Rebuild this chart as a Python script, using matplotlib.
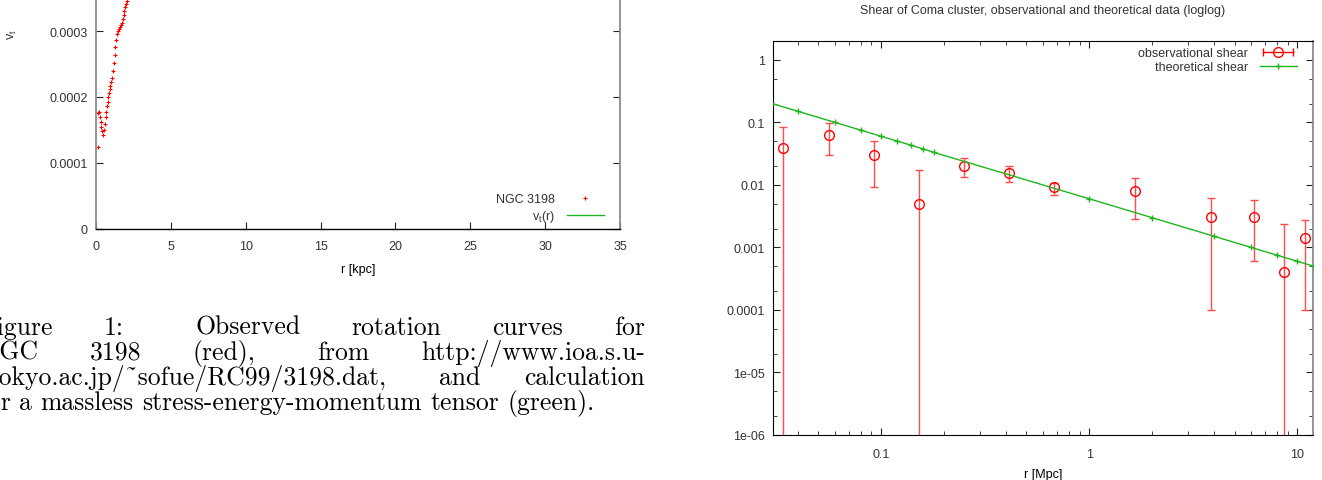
import matplotlib.pyplot as plt
from matplotlib.lines import Line2D
from matplotlib.legend_handler import HandlerLine2D, HandlerTuple
from matplotlib.ticker import LogLocator, NullFormatter

W, H = 1322, 481

# NGC 3198 rotation curve (visible part), r in kpc
ngc_r = [0.0, 0.11, 0.15, 0.22, 0.27, 0.33, 0.35, 0.40, 0.46, 0.53, 0.60, 0.64,
         0.69, 0.73, 0.78, 0.82, 0.86, 0.91, 0.95, 1.02, 1.06, 1.13, 1.20, 1.24,
         1.28, 1.35, 1.42, 1.48, 1.55, 1.62, 1.68, 1.75, 1.82, 1.86, 1.90, 1.95,
         2.01, 2.08]
ngc_v = [0.0, 1.24e-4, 1.76e-4, 1.77e-4, 1.69e-4, 1.62e-4, 1.54e-4, 1.48e-4,
         1.43e-4, 1.50e-4, 1.59e-4, 1.69e-4, 1.78e-4, 1.86e-4, 1.93e-4, 2.00e-4,
         2.06e-4, 2.12e-4, 2.17e-4, 2.23e-4, 2.29e-4, 2.39e-4, 2.52e-4, 2.64e-4,
         2.76e-4, 2.87e-4, 2.95e-4, 3.00e-4, 3.03e-4, 3.06e-4, 3.09e-4, 3.12e-4,
         3.18e-4, 3.24e-4, 3.30e-4, 3.36e-4, 3.41e-4, 3.45e-4]
left_xticks = [0, 5, 10, 15, 20, 25, 30, 35]
left_yticks = [0, 1e-4, 2e-4, 3e-4]
left_ylabels = ["0", "0.0001", "0.0002", "0.0003"]

# Coma cluster shear, r in Mpc (lower bound 0 = bar runs off the log axis)
obs_r = [0.034, 0.056, 0.093, 0.153, 0.25, 0.41, 0.68, 1.66, 3.83, 6.23, 8.61, 10.9]
obs_v = [0.039, 0.063, 0.030, 0.0050, 0.020, 0.0155, 0.0091, 0.0079, 0.0031,
         0.0031, 0.0004, 0.0014]
obs_hi = [0.085, 0.097, 0.050, 0.0171, 0.0272, 0.0197, 0.0107, 0.0127, 0.0062,
          0.0057, 0.0024, 0.0027]
obs_lo = [0, 0.0304, 0.0091, 0, 0.0132, 0.011, 0.0069, 0.0028, 1e-4, 6e-4, 0, 1e-4]

th_r = [0.03, 0.04, 0.06, 0.08, 0.1, 0.12, 0.14, 0.16, 0.18, 1, 2, 4, 6, 8, 10, 12]
th_v = [0.2, 0.15, 0.1, 0.075, 0.06, 0.05, 0.043, 0.0375, 0.033, 0.006, 0.003,
        0.0015, 0.001, 0.00075, 0.0006, 0.0005]

right_xticks = [0.1, 1, 10]
right_xlabels = ["0.1", "1", "10"]
right_yticks = [1, 0.1, 0.01, 0.001, 1e-4, 1e-5, 1e-6]
right_ylabels = ["1", "0.1", "0.01", "0.001", "0.0001", "1e-05", "1e-06"]

caption = [
    "Figure 1: Observed rotation curves for",
    "NGC 3198 (red), from http://www.ioa.s.u-",
    "Tokyo.ac.jp/~sofue/RC99/3198.dat, and calculation",
    "for a massless stress-energy-momentum tensor (green).",
]

RED = "#ff0000"
GREEN = "#1fb51f"
TXT = "#333333"
plt.rcParams["font.family"] = ["Liberation Sans", "DejaVu Sans"]
plt.rcParams["font.size"] = 9
plt.rcParams["text.color"] = TXT
plt.rcParams["xtick.color"] = "#222222"
plt.rcParams["ytick.color"] = "#222222"
plt.rcParams["xtick.labelcolor"] = TXT
plt.rcParams["ytick.labelcolor"] = TXT

fig = plt.figure(figsize=(W / 100, H / 100), dpi=100)


def frac_box(x0, y_top, x1, y_bot):
    return [x0 / W, 1 - y_bot / H, (x1 - x0) / W, (y_bot - y_top) / H]


# ---------- left: rotation curve ----------
ax1 = fig.add_axes(frac_box(96, 230 - 264, 620, 230))
ax1.plot(ngc_r, ngc_v, "+", color=RED, markersize=2.5, mew=0.8, label="NGC 3198")
ax1.plot([], [], "-", color=GREEN, lw=1, label="v$_\\mathregular{t}$(r)")
ax1.set_xlim(0, 35)
ax1.set_ylim(0, 4e-4)
ax1.set_xticks(left_xticks)
ax1.set_yticks(left_yticks, left_ylabels)
ax1.tick_params(direction="in", length=5, right=True, top=False, pad=6)
ax1.tick_params(axis="x", pad=8)
for s in ["left", "right"]:
    ax1.spines[s].set_color("#8c8c8c")
    ax1.spines[s].set_linewidth(1.3)
ax1.spines["bottom"].set_linewidth(1.0)
ax1.set_xlabel("r [kpc]", labelpad=8)
fig.text(12 / W, 1 - 35 / H, "v$_\\mathregular{t}$", rotation=90, ha="center",
         va="center", fontsize=9)
ax1.legend(loc="lower right", bbox_to_anchor=(604 / W, 1 - 225 / H),
           bbox_transform=fig.transFigure, frameon=False, markerfirst=False,
           borderpad=0, borderaxespad=0, handlelength=3.0, handletextpad=0.9,
           labelspacing=0.25, fontsize=9)

# ---------- right: Coma shear ----------
ax2 = fig.add_axes(frac_box(773, 42, 1313, 436))
ax2.set_xscale("log")
ax2.set_yscale("log")
yl = [v - max(lo, 1e-9) for v, lo in zip(obs_v, obs_lo)]
yh = [hi - v for v, hi in zip(obs_v, obs_hi)]
ax2.errorbar(obs_r, obs_v, yerr=[yl, yh], fmt="none", ecolor="#ff4d4d",
             elinewidth=1.0, capsize=3, capthick=1.0, zorder=2)
ax2.plot(obs_r, obs_v, "o", mfc="none", mec=RED, mew=1.0, markersize=7, zorder=3)
ax2.plot(th_r, th_v, "-", color=GREEN, lw=1, marker="+", markersize=5, mew=1,
         zorder=4)
ax2.set_xlim(0.0303, 11.9)
ax2.set_ylim(1e-6, 2.0)
ax2.set_xticks(right_xticks, right_xlabels)
ax2.set_yticks(right_yticks, right_ylabels)
ax2.xaxis.set_minor_locator(LogLocator(base=10, subs=range(2, 10)))
ax2.yaxis.set_minor_locator(LogLocator(base=10, subs=(2, 5)))
ax2.xaxis.set_minor_formatter(NullFormatter())
ax2.yaxis.set_minor_formatter(NullFormatter())
ax2.tick_params(which="both", direction="in", top=True, right=True)
ax2.tick_params(which="major", length=5, pad=6)
ax2.tick_params(axis="x", which="major", pad=9)
ax2.tick_params(which="minor", length=3)
ax2.spines["right"].set_color("#8c8c8c")
ax2.spines["right"].set_linewidth(1.3)
ax2.set_xlabel("r [Mpc]", labelpad=6)
ax2.set_title("Shear of Coma cluster, observational and theoretical data (loglog)",
              fontsize=9, pad=20)

caps = Line2D([], [], color=RED, lw=1, marker="|", markersize=6, mew=1)
circ = Line2D([], [], ls="none", marker="o", mfc="none", mec=RED, mew=1,
              markersize=7)
theo = Line2D([], [], color=GREEN, lw=1, marker="+", markersize=5, mew=1)
ax2.legend([(caps, circ), theo], ["observational shear", "theoretical shear"],
           handler_map={caps: HandlerLine2D(numpoints=2),
                        circ: HandlerLine2D(numpoints=1),
                        tuple: HandlerTuple(ndivide=1)},
           loc="upper right", bbox_to_anchor=(1297 / W, 1 - 48 / H),
           bbox_transform=fig.transFigure, frameon=False, markerfirst=False,
           borderpad=0, borderaxespad=0, handlelength=3.0, handletextpad=0.9,
           labelspacing=0.15, fontsize=9)

# ---------- caption (justified like TeX, cut at the left page edge) ----------
cap_size = 18.5
cap_font = dict(family=["cmr10", "DejaVu Serif"], fontsize=cap_size, color="black")
renderer = fig.canvas.get_renderer()
left_px, right_px = -20, 645
baselines = [335, 360, 385, 410]
space_px = cap_size * 100 / 72 * 0.333


def stretch_weight(word):
    # TeX space factor: more stretch after punctuation
    if word.endswith(":"):
        return 1.5
    if word.endswith(","):
        return 1.25
    return 1.0


for i, (line, yb) in enumerate(zip(caption, baselines)):
    words = line.split(" ")
    arts = [fig.text(0, 1 - yb / H, w, va="baseline", ha="left", **cap_font)
            for w in words]
    widths = [a.get_window_extent(renderer).width for a in arts]
    weights = [stretch_weight(w) for w in words[:-1]]
    if i < len(caption) - 1:
        free = right_px - left_px - sum(widths) - space_px * len(weights)
        unit = free / sum(weights)
        gaps = [space_px + unit * wt for wt in weights]
    else:
        gaps = [space_px] * len(weights)
    x = left_px
    for j, (a, w) in enumerate(zip(arts, widths)):
        a.set_x(x / W)
        if j < len(gaps):
            x += w + gaps[j]

fig.savefig("out.png", dpi=100)
